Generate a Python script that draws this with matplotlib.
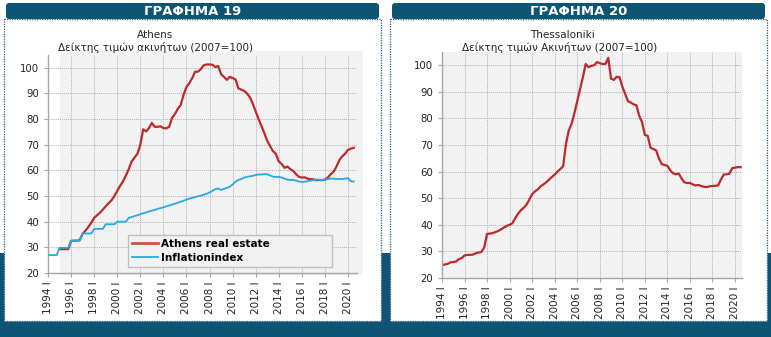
import numpy as np
import matplotlib
matplotlib.use("Agg")
import matplotlib.pyplot as plt
from matplotlib.patches import Rectangle, FancyBboxPatch
from matplotlib.lines import Line2D
from matplotlib import font_manager

# quarterly index values, 1994 Q1 .. 2020 Q3
start_year = 1994
athens_start = 1995  # red series begins in 1995 Q1
athens = [
    29.3, 29.3, 29.3, 29.3,
    32.5, 32.6, 32.6, 32.8,
    35.3, 36.5, 38.0, 39.6,
    41.5, 42.5, 43.5, 44.7,
    46.0, 47.2, 48.3, 50.0,
    52.0, 54.0, 55.7, 58.0,
    60.5, 63.5, 65.0, 66.5,
    70.0, 76.0, 75.2, 76.5,
    78.5, 77.0, 77.0, 77.2,
    76.5, 76.4, 77.0, 80.5,
    82.0, 84.0, 85.5, 89.5,
    92.5, 94.0, 96.0, 98.5,
    98.5, 99.5, 101.0, 101.3,
    101.3, 101.2, 100.3, 100.7,
    97.5, 96.5, 95.3, 96.5,
    96.0, 95.5, 92.0, 91.5,
    91.0, 90.0, 88.5, 86.0,
    83.0, 80.0, 77.3, 74.5,
    71.5, 69.5, 67.5, 66.5,
    63.5, 62.5, 61.0, 61.5,
    60.5, 59.8, 58.5, 57.5,
    57.2, 57.3, 56.8, 56.6,
    56.5, 56.2, 56.3, 56.2,
    56.4, 57.2, 58.5, 59.5,
    61.5, 64.0, 65.5, 66.5,
    68.0, 68.5, 68.8,
]
inflation = [
    27.0, 27.0, 27.0, 27.0,
    29.8, 29.8, 29.8, 29.8,
    32.6, 32.6, 32.6, 32.6,
    35.4, 35.4, 35.4, 35.4,
    37.2, 37.2, 37.2, 37.2,
    39.0, 39.0, 39.0, 39.0,
    40.0, 40.0, 40.0, 40.0,
    41.5, 41.8, 42.2, 42.5,
    42.9, 43.3, 43.6, 44.0,
    44.3, 44.6, 45.0, 45.3,
    45.6, 46.0, 46.3, 46.7,
    47.0, 47.4, 47.8, 48.2,
    48.6, 49.0, 49.3, 49.6,
    49.9, 50.2, 50.5, 50.9,
    51.4, 52.0, 52.7, 53.0,
    52.4, 52.8, 53.2, 53.6,
    54.5, 55.6, 56.3, 56.6,
    57.2, 57.5, 57.7, 57.9,
    58.2, 58.4, 58.4, 58.6,
    58.5, 58.0, 57.6, 57.4,
    57.5, 57.2, 56.8, 56.4,
    56.3, 56.3, 56.0, 55.7,
    55.5, 55.6, 55.8, 56.0,
    56.2, 56.4, 56.3, 56.2,
    56.4, 56.6, 56.8, 56.8,
    56.6, 56.7, 56.6, 56.8,
    57.0, 55.7, 55.7,
]
thessaloniki = [
    24.8, 25.1, 25.3, 25.9,
    26.0, 26.2, 27.1, 27.5,
    28.5, 28.7, 28.7, 28.8,
    29.3, 29.6, 29.8, 31.5,
    36.6, 36.7, 36.9, 37.3,
    37.7, 38.3, 39.0, 39.6,
    40.0, 40.6, 42.5, 44.2,
    45.5, 46.4, 47.6, 49.5,
    51.5, 52.6, 53.3, 54.5,
    55.2, 56.0, 57.0, 58.0,
    58.9, 60.0, 61.0, 62.0,
    70.5, 75.5, 78.0, 82.0,
    86.5, 91.0, 95.5, 100.5,
    99.3, 99.8, 100.0, 101.2,
    100.8, 100.5, 100.5, 102.8,
    95.0, 94.5, 95.7, 95.5,
    92.0, 89.3, 86.5, 86.0,
    85.3, 85.0, 81.0, 78.6,
    73.8, 73.5, 69.0, 68.5,
    68.0, 65.0, 62.8, 62.5,
    62.2, 60.5, 59.4, 59.0,
    59.3, 57.5, 56.0, 55.7,
    55.8, 55.2, 54.8, 55.0,
    54.6, 54.3, 54.2, 54.5,
    54.6, 54.7, 54.8, 57.0,
    58.9, 59.0, 59.2, 61.3,
    61.5, 61.7, 61.7,
]
tick_years = list(range(1994, 2021, 2))
tick_labels = [f"{y} I" for y in tick_years]
yticks = list(range(20, 101, 10))


def qtime(first_year, n):
    return first_year + np.arange(n) / 4.0


TEAL = "#0e5474"
GRAY_BG = "#f2f2f2"
GRID = "#b0b0b0"
AXIS = "#a6a6a6"
RED = "#c0282a"
BLUE = "#29a9e1"

avail = {f.name for f in font_manager.fontManager.ttflist}
narrow = "Liberation Sans Narrow" if "Liberation Sans Narrow" in avail else "DejaVu Sans"

fig = plt.figure(figsize=(7.71, 3.37), dpi=100)
fig.patch.set_facecolor("white")

# background / frame layer in pixel coordinates
bg = fig.add_axes([0, 0, 1, 1], zorder=-5)
bg.set_xlim(0, 771)
bg.set_ylim(337, 0)
bg.axis("off")
bg.add_patch(Rectangle((0, 253), 771, 84, color=TEAL, lw=0))
for x0, title in [(4, "ΓΡΑΦΗΜΑ 19"), (390, "ΓΡΑΦΗΜΑ 20")]:
    bg.add_patch(Rectangle((x0, 19), 377, 302, facecolor="white",
                           edgecolor="#2f5f8a", lw=0.9, ls=(0, (1, 1))))
    bg.add_patch(FancyBboxPatch((x0 + 2, 3), 373, 16,
                                boxstyle="round,pad=0,rounding_size=3",
                                facecolor=TEAL, edgecolor="none"))
    bg.text(x0 + 188.5, 11.5, title, color="white", fontsize=9.5,
            fontweight="bold", ha="center", va="center")


def style_axes(ax, xmax):
    ax.set_xlim(1994, xmax)
    ax.set_ylim(20, 105)
    ax.set_yticks(yticks)
    ax.set_xticks(tick_years)
    ax.set_xticklabels(tick_labels, rotation=90, fontsize=7.5,
                       family=narrow, color="#222222")
    ax.tick_params(axis="y", labelsize=7.3, colors="#222222", length=3,
                   color=AXIS)
    ax.tick_params(axis="x", length=3, color=AXIS, pad=3)
    ax.grid(True, color=GRID, ls=(0, (1, 1)), lw=0.7)
    ax.set_axisbelow(True)
    for s in ["top", "right"]:
        ax.spines[s].set_visible(False)
    for s in ["left", "bottom"]:
        ax.spines[s].set_color(AXIS)
        ax.spines[s].set_linewidth(1.0)


# ---- left: Athens
ax1 = fig.add_axes([48 / 771, 1 - 273 / 337, 309 / 771, 218 / 337])
ax1.patch.set_visible(False)
ax1.add_patch(Rectangle((0.04, -0.01), 0.98, 1.03, transform=ax1.transAxes,
                        facecolor=GRAY_BG, edgecolor="none", zorder=-1,
                        clip_on=False))
style_axes(ax1, 2020.78)
ax1.plot(qtime(start_year, len(inflation)), inflation, color=BLUE, lw=1.3,
         zorder=3)
ax1.plot(qtime(athens_start, len(athens)), athens, color=RED, lw=1.6, zorder=2)
handles = [Line2D([], [], color="#c8553d", lw=2),
           Line2D([], [], color=BLUE, lw=1.3)]
leg = ax1.legend(handles, ["Athens real estate", "Inflationindex"],
                 loc="lower left", bbox_to_anchor=(0.259, 0.028, 0.66, 0.137),
                 mode="expand", prop={"weight": "bold", "size": 7.5},
                 handlelength=2.5, handletextpad=0.3, borderaxespad=0,
                 labelspacing=0.35, fancybox=False, framealpha=1,
                 borderpad=0.4)
leg.get_frame().set_facecolor(GRAY_BG)
leg.get_frame().set_edgecolor("#bfbfbf")
fig.text(155 / 771, 1 - 35 / 337, "Athens", ha="center", va="center",
         fontsize=7.5, color="#222222")
fig.text(155 / 771, 1 - 47.5 / 337, "Δείκτης τιμών ακινήτων (2007=100)",
         ha="center", va="center", fontsize=7.5, color="#222222")

# ---- right: Thessaloniki
ax2 = fig.add_axes([442 / 771, 1 - 278 / 337, 300 / 771, 226 / 337])
ax2.set_facecolor(GRAY_BG)
style_axes(ax2, 2020.62)
ax2.plot(qtime(start_year, len(thessaloniki)), thessaloniki, color=RED, lw=1.6)
fig.text(562 / 771, 1 - 35 / 337, "Thessaloniki", ha="center", va="center",
         fontsize=7.5, color="#222222")
fig.text(560 / 771, 1 - 47.5 / 337, "Δείκτης τιμών Ακινήτων (2007=100)",
         ha="center", va="center", fontsize=7.5, color="#222222")

fig.savefig("out.png", dpi=100)
